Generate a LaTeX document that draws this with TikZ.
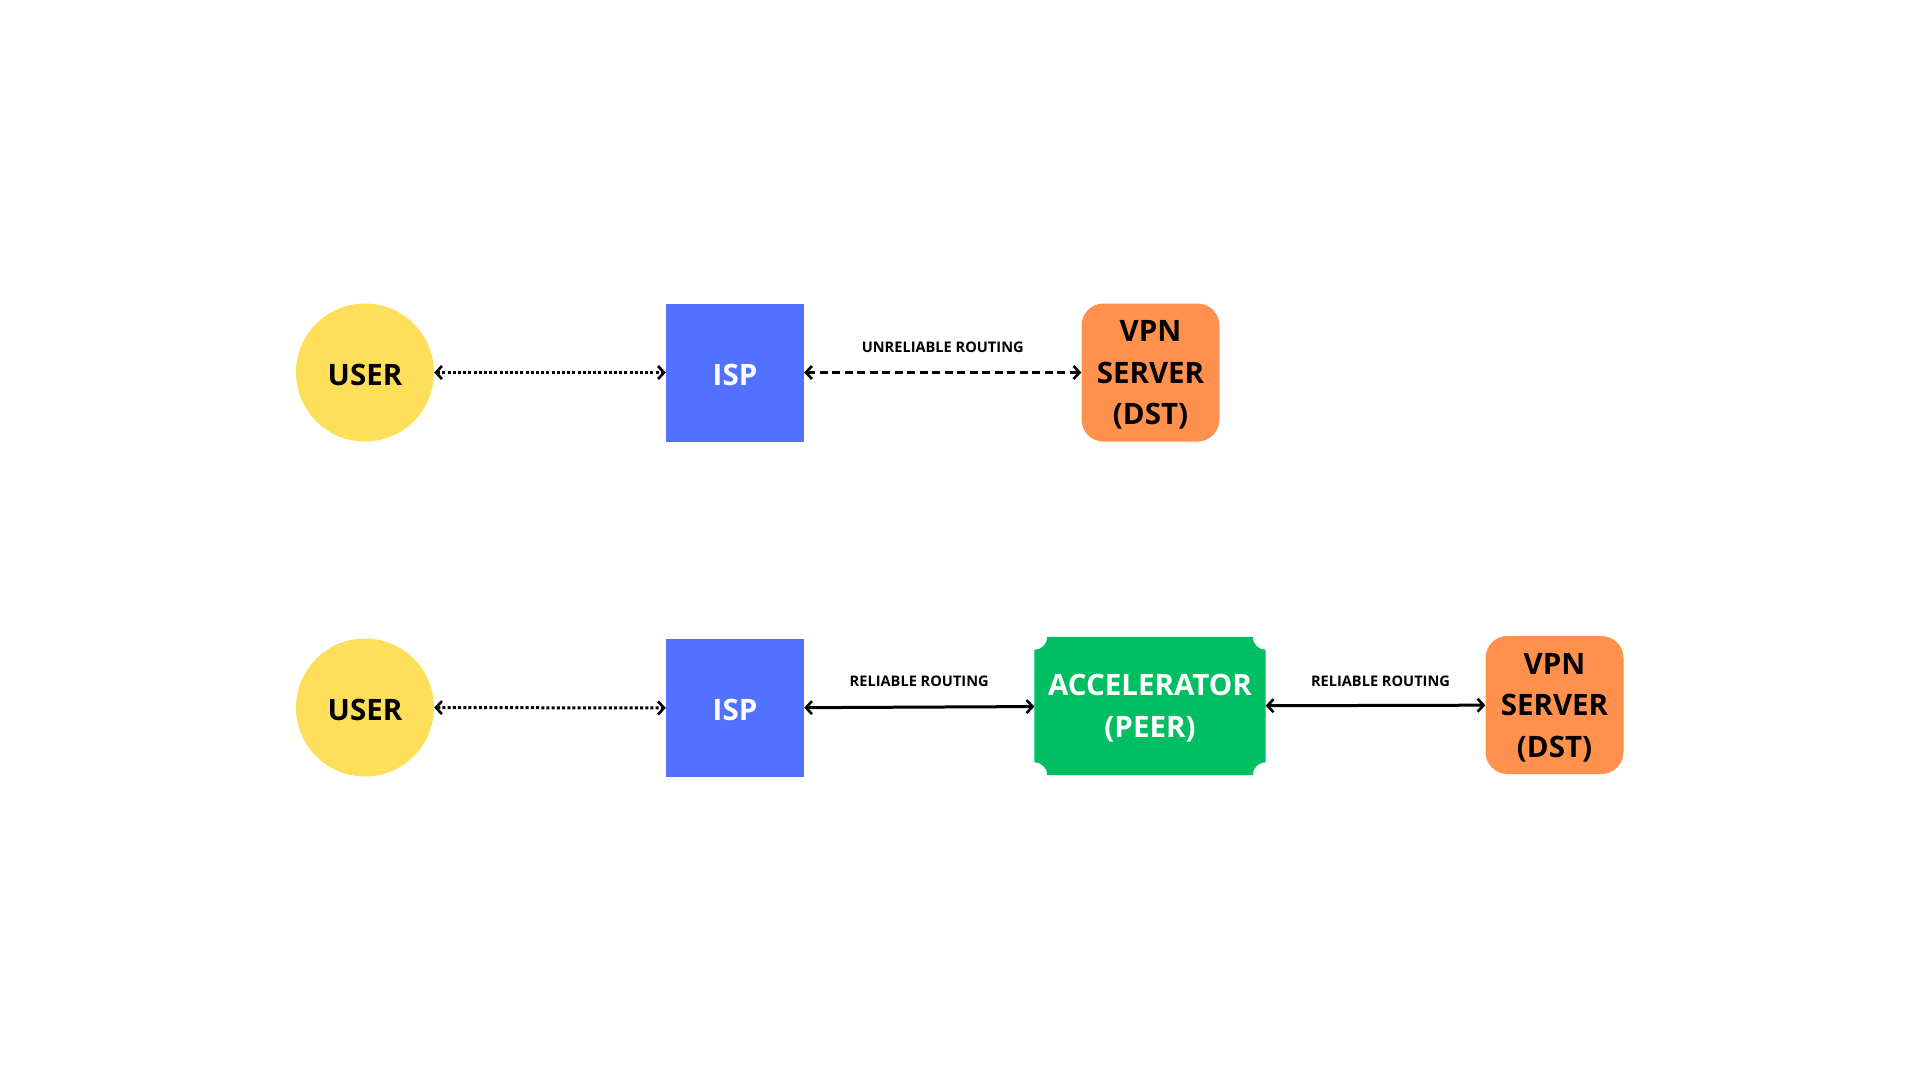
\documentclass[tikz,border=0pt]{standalone}
\usepackage{fontspec}
\setmainfont{Open Sans}
\usetikzlibrary{arrows.meta,backgrounds}
\definecolor{useryellow}{HTML}{FFDE59}
\definecolor{ispblue}{HTML}{5271FF}
\definecolor{vpnorange}{HTML}{FF914D}
\definecolor{accgreen}{HTML}{00BF63}
\tikzset{
  big/.style={font=\fontsize{29.5}{41.5}\selectfont\bfseries, align=center, inner sep=0pt},
  oneline/.style={execute at begin node={\rule{0pt}{25.5pt}}},
  multiline/.style={text depth=-0.5pt},
  userc/.style={big, oneline, circle, fill=useryellow, minimum size=138pt, text=black},
  ispbox/.style={big, oneline, rectangle, fill=ispblue, minimum width=138pt, minimum height=138pt, text=white},
  vpnbox/.style={big, multiline, rectangle, rounded corners=22pt, fill=vpnorange, minimum width=138pt, minimum height=138pt, text=black},
  accbox/.style={big, multiline, rectangle, minimum width=231pt, minimum height=138pt, text=white},
  lbl/.style={font=\fontsize{14.6}{18}\selectfont\bfseries, text=black, inner sep=0pt},
  conn/.style={line width=3pt, {Straight Barb[length=6pt,width=13pt,line width=2.6pt]}-{Straight Barb[length=6pt,width=13pt,line width=2.6pt]}},
  dotconn/.style={conn, dash pattern=on 3pt off 2.2pt},
  dashconn/.style={conn, dash pattern=on 8pt off 4.5pt},
  solidconn/.style={conn}
}
\begin{document}
\begin{tikzpicture}[x=1pt,y=-1pt]
\useasboundingbox (0,0) rectangle (1920,1080);
% top row
\node[userc] (user1) at (365,372.5) {USER};
\node[ispbox] (isp1) at (735,372.5) {ISP};
\node[vpnbox] (vpn1) at (1150.5,372.5) {VPN\\SERVER\\(DST)};
% bottom row
\node[userc] (user2) at (365,707.5) {USER};
\node[ispbox] (isp2) at (735,708) {ISP};
\node[accbox] (acc) at (1150,706) {ACCELERATOR\\(PEER)};
\node[vpnbox] (vpn2) at (1554.5,705) {VPN\\SERVER\\(DST)};
\begin{scope}[on background layer]
\fill[accgreen] ([xshift=13pt]acc.north west) -- ([xshift=-13pt]acc.north east)
  arc[start angle=180,end angle=270,radius=13pt]
  -- ([yshift=13pt]acc.south east)
  arc[start angle=90,end angle=180,radius=13pt]
  -- ([xshift=13pt]acc.south west)
  arc[start angle=0,end angle=90,radius=13pt]
  -- ([yshift=-13pt]acc.north west)
  arc[start angle=270,end angle=360,radius=13pt] -- cycle;
\end{scope}
% connectors
\draw[dotconn] (user1) -- (isp1);
\draw[dashconn] (isp1) -- node[lbl, midway, yshift=25.5pt] {UNRELIABLE ROUTING} (vpn1);
\draw[dotconn] (user2) -- (isp2);
\draw[solidconn] (isp2) -- node[lbl, midway, yshift=25.5pt] {RELIABLE ROUTING} (acc);
\draw[solidconn] (acc) -- node[lbl, midway, xshift=5pt, yshift=24pt] {RELIABLE ROUTING} (vpn2);
\end{tikzpicture}
\end{document}
